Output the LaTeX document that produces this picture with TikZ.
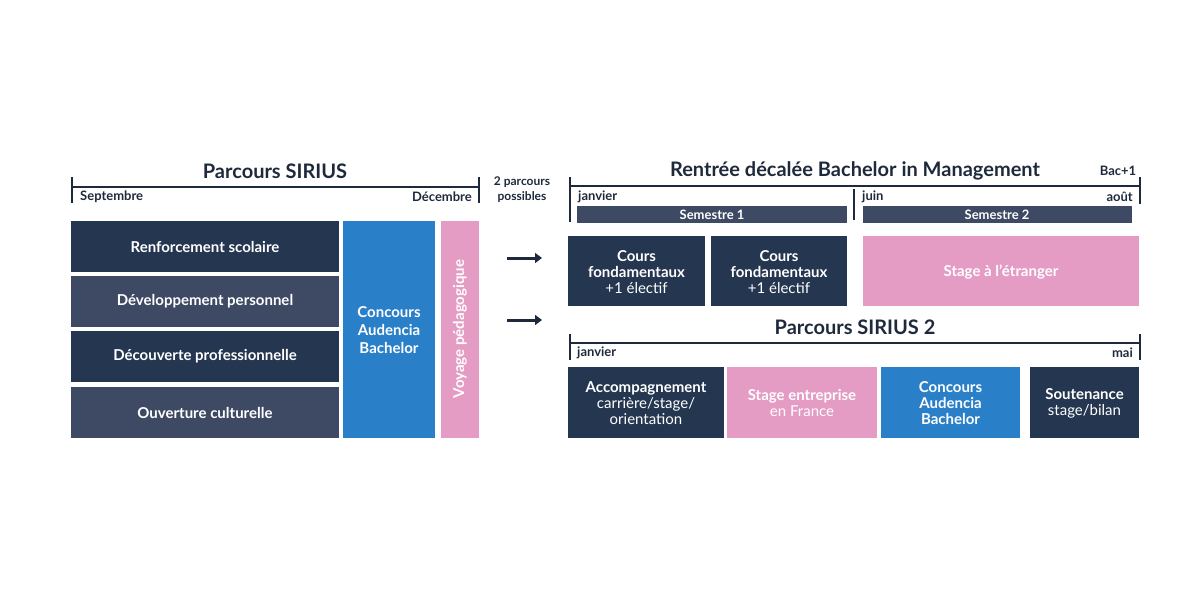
\documentclass[tikz,border=0pt]{standalone}
\usepackage{fontspec}
\setmainfont{Lato}
\usetikzlibrary{arrows.meta}
\definecolor{navy}{HTML}{253650}
\definecolor{slate}{HTML}{3E4A63}
\definecolor{azure}{HTML}{2A7FC9}
\definecolor{rose}{HTML}{E59CC4}
\definecolor{ink}{HTML}{1E2A3C}
\begin{document}
\begin{tikzpicture}[x=1pt,y=-1pt,
  box/.style={draw=none,text=white,font=\fontsize{15}{16}\selectfont\bfseries,align=center,inner sep=0},
  tl/.style={ink,line width=1.6pt},
  lab/.style={text=ink,font=\fontsize{13}{14}\selectfont\bfseries,inner sep=0},
  ttl/.style={text=ink,font=\fontsize{20}{22}\selectfont\bfseries,inner sep=0},
  arr/.style={ink,line width=3pt,-{Triangle[length=7pt,width=10pt]}}]
\useasboundingbox (0,0) rectangle (1200,594);
% left timeline
\node[ttl] (t1) at (275,171) {Parcours SIRIUS};
\draw[tl] (72,187) -- (479,187); \draw[tl] (72,177) -- (72,203); \draw[tl] (479,177) -- (479,203);
\node[lab,anchor=west] (sep) at (80,197) {Septembre};
\node[lab,anchor=east] (dec) at (472,197) {Décembre};
\node[lab,align=center,font=\fontsize{12}{15}\selectfont\bfseries] (pp) at (522,190) {2 parcours\\possibles};
% left boxes
\fill[navy] (71,221) rectangle (339,272); \node[box] (b1) at (205,246.5) {Renforcement scolaire};
\fill[slate] (71,276) rectangle (339,327); \node[box] (b2) at (205,301.5) {Développement personnel};
\fill[navy] (71,331) rectangle (339,382); \node[box] (b3) at (205,356.5) {Découverte professionnelle};
\fill[slate] (71,387) rectangle (339,438); \node[box] (b4) at (205,412.5) {Ouverture culturelle};
\fill[azure] (343,221) rectangle (435,438); \node[box,font=\fontsize{15}{18}\selectfont\bfseries] (b5) at (389,330) {Concours\\Audencia\\Bachelor};
\fill[rose] (441,221) rectangle (479,438); \node[box,rotate=90] (b6) at (460,329) {Voyage pédagogique};
% arrows
\coordinate (a1s) at (507,258); \coordinate (a1e) at (542,258);
\coordinate (a2s) at (507,320); \coordinate (a2e) at (542,320);
\draw[arr] (a1s) -- (a1e); \draw[arr] (a2s) -- (a2e);
% right top
\node[ttl] (t2) at (855,171) {Rentrée décalée Bachelor in Management};
\node[lab] (bac) at (1118,171) {Bac+1};
\draw[tl] (570,186) -- (1140,186); \draw[tl] (570,177) -- (570,222); \draw[tl] (854,189) -- (854,220); \draw[tl] (1140,177) -- (1140,204);
\node[lab,anchor=west] (jan) at (578,197) {janvier};
\node[lab,anchor=west] (jun) at (862,197) {juin};
\node[lab,anchor=east] (aou) at (1133,197) {août};
\fill[slate] (577,206) rectangle (847,223); \node[box,font=\fontsize{13}{14}\selectfont\bfseries] (s1) at (712,215) {Semestre 1};
\fill[slate] (863,206) rectangle (1132,223); \node[box,font=\fontsize{13}{14}\selectfont\bfseries] (s2) at (997,215) {Semestre 2};
\fill[navy] (568,236) rectangle (705,306); \node[box] (c1) at (636.5,272) {Cours\\fondamentaux\\\mdseries +1 électif};
\fill[navy] (711,236) rectangle (847,306); \node[box] (c2) at (779,272) {Cours\\fondamentaux\\\mdseries +1 électif};
\fill[rose] (863,236) rectangle (1139,306); \node[box] (c3) at (1001,272) {Stage à l’étranger};
% right bottom
\node[ttl] (t3) at (855,327) {Parcours SIRIUS 2};
\draw[tl] (570,343) -- (1140,343); \draw[tl] (570,334) -- (570,360); \draw[tl] (1140,334) -- (1140,360);
\node[lab,anchor=west] (jan2) at (577,353) {janvier};
\node[lab,anchor=east] (mai) at (1133,353) {mai};
\fill[navy] (568,367) rectangle (724,438); \node[box] (d1) at (646,403) {Accompagnement\\\mdseries carrière/stage/\\\mdseries orientation};
\fill[rose] (727,367) rectangle (877,438); \node[box] (d2) at (802,403) {Stage entreprise\\\mdseries en France};
\fill[azure] (881,367) rectangle (1020,438); \node[box] (d3) at (950.5,403) {Concours\\Audencia\\Bachelor};
\fill[navy] (1030,367) rectangle (1139,438); \node[box] (d4) at (1084.5,403) {Soutenance\\\mdseries stage/bilan};
\end{tikzpicture}
\end{document}
